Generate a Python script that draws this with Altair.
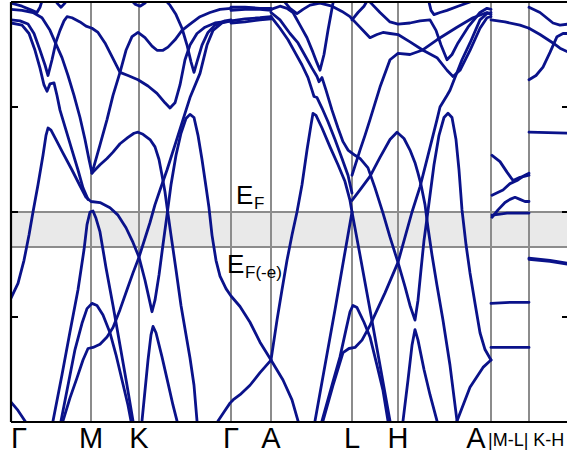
import altair as alt
import pandas as pd

# ---------------- data (k: path coordinate, E: energy in eV rel. E_F) ----------------
sym_k = [80, 128, 220, 260, 341, 387, 480, 518]
ef_levels = [0.0, -0.333]

# Gamma - M - K - Gamma
b01_k = [0, 7, 14, 16]
b01_e = [-1.81, -1.89, -1.99, -2.03]
b02_k = [0, 11, 21, 26, 29, 32]
b02_e = [1.99, 1.96, 1.92, 1.90, 1.95, 2.04]
b03_k = [0, 11, 22, 31, 39, 44, 51, 57, 63, 69, 74, 78, 81, 89, 96, 102, 109, 115, 121, 127, 134, 141, 146, 152, 157, 164, 171, 179, 189, 199, 209, 220]
b03_e = [1.93, 1.92, 1.90, 1.85, 1.73, 1.62, 1.47, 1.30, 1.11, 0.90, 0.69, 0.50, 0.37, 0.64, 0.88, 1.11, 1.33, 1.54, 1.67, 1.71, 1.66, 1.58, 1.54, 1.54, 1.57, 1.64, 1.73, 1.79, 1.86, 1.90, 1.93, 1.94]
b04_k = [0, 9, 17, 23, 29, 34, 37, 41, 45, 49, 53, 56, 61, 69, 75, 81, 87, 94, 101, 109, 117, 127, 137, 146, 154, 159, 164, 169, 174, 179, 186, 194, 204, 220]
b04_e = [1.83, 1.82, 1.79, 1.70, 1.54, 1.40, 1.30, 1.45, 1.62, 1.73, 1.82, 1.86, 1.85, 1.81, 1.77, 1.75, 1.71, 1.61, 1.48, 1.33, 1.30, 1.26, 1.20, 1.13, 1.04, 0.99, 1.04, 1.21, 1.45, 1.59, 1.70, 1.76, 1.80, 1.82]
b05_k = [0, 11, 18, 24, 29, 33, 36, 39, 43, 46, 49, 55, 61, 67, 72, 77]
b05_e = [1.80, 1.78, 1.70, 1.54, 1.37, 1.21, 1.15, 1.22, 1.23, 1.11, 0.97, 0.78, 0.59, 0.40, 0.23, 0.12]
b06_k = [0, 7, 13, 18, 22, 27, 32, 35, 37, 40, 45, 52, 61, 69, 75, 80, 89, 99, 107, 115, 122, 128, 134, 138, 141, 144, 148, 152, 156, 160, 165, 170, 175, 179, 183, 187, 191, 195, 198, 201, 205, 209, 215, 220, 229, 239, 249, 260, 272, 281, 287, 289]
b06_e = [-0.82, -0.68, -0.46, -0.22, 0.0, 0.26, 0.54, 0.73, 0.80, 0.78, 0.69, 0.56, 0.40, 0.25, 0.14, 0.10, 0.09, 0.04, -0.03, -0.15, -0.29, -0.43, -0.65, -0.82, -0.95, -0.84, -0.60, -0.31, -0.03, 0.26, 0.54, 0.75, 0.89, 0.93, 0.90, 0.73, 0.50, 0.24, 0.04, -0.22, -0.46, -0.61, -0.73, -0.80, -0.90, -1.05, -1.24, -1.41, -1.60, -1.79, -1.99, -2.03]
b07_k = [42, 51, 59, 67, 73, 76, 79, 82, 85, 89, 95, 102, 109, 116, 122]
b07_e = [-1.99, -1.55, -1.14, -0.74, -0.36, -0.12, 0.0, 0.01, -0.06, -0.19, -0.53, -0.89, -1.27, -1.65, -1.99]
b08_k = [50, 57, 64, 71, 76, 81, 86, 92, 99, 105, 111, 117, 120]
b08_e = [-1.99, -1.65, -1.31, -1.06, -0.92, -0.87, -0.89, -0.98, -1.15, -1.36, -1.60, -1.84, -1.99]
b09_k = [52, 59, 66, 72, 77, 82, 89, 96, 102, 109, 116, 122, 128, 134, 139, 144, 149, 156, 164, 172, 179, 189, 196, 202, 211, 220]
b09_e = [-1.99, -1.77, -1.58, -1.41, -1.30, -1.29, -1.26, -1.19, -1.10, -0.93, -0.74, -0.58, -0.43, -0.25, -0.10, 0.07, 0.21, 0.40, 0.64, 0.88, 1.09, 1.32, 1.59, 1.73, 1.80, 1.82]
b10_k = [81, 89, 96, 102, 109, 117, 123, 127, 132, 139, 144, 148, 151, 154, 156, 160, 165, 170, 175, 179, 183, 186]
b10_e = [0.37, 0.45, 0.51, 0.57, 0.65, 0.71, 0.75, 0.76, 0.74, 0.69, 0.62, 0.50, 0.35, 0.19, 0.05, -0.22, -0.55, -0.89, -1.17, -1.39, -1.65, -1.99]
b11_k = [42, 47, 50, 53, 58]
b11_e = [2.04, 1.98, 1.95, 1.98, 2.04]
b12_k = [118, 124, 129, 134, 138]
b12_e = [2.04, 1.98, 1.96, 1.99, 2.04]
b13_k = [152, 159, 165, 171, 176, 180, 183, 186, 191, 197, 204, 214, 220]
b13_e = [2.04, 1.97, 1.88, 1.75, 1.59, 1.43, 1.33, 1.43, 1.59, 1.71, 1.78, 1.82, 1.83]
b14_k = [131, 134, 137, 140, 142, 145, 151, 157, 162, 166]
b14_e = [-1.99, -1.70, -1.41, -1.17, -1.09, -1.15, -1.38, -1.63, -1.84, -1.99]

# Gamma - A
ga_k = [220, 234, 249, 260]
t1_e = [1.95, 1.95, 1.94, 1.94]
t2_e = [1.92, 1.93, 1.93, 1.92]
t3_e = [1.82, 1.84, 1.85, 1.86]
t4_e = [1.80, 1.81, 1.83, 1.84]
ag_k = [207, 214, 219, 222, 229, 239, 249, 260]
ag_e = [-1.99, -1.89, -1.82, -1.79, -1.74, -1.65, -1.53, -1.41]

# A - L - H - A
al1_k = [260, 269, 277, 284, 291, 297, 301, 303, 306, 311, 317, 324, 331, 337, 341]
al1_e = [1.86, 1.75, 1.64, 1.52, 1.40, 1.28, 1.16, 1.10, 1.09, 0.99, 0.86, 0.69, 0.51, 0.35, 0.18]
al2_k = [260, 269, 279, 287, 294, 301, 306, 308, 311, 315, 321, 327, 332, 337, 344, 349, 357, 364, 372, 379, 387, 394, 399, 404, 407, 410, 413, 416, 419, 423, 428, 433, 437, 441, 445, 448, 451, 455, 459, 464, 469, 474, 480]
al2_e = [1.90, 1.83, 1.70, 1.61, 1.49, 1.37, 1.29, 1.24, 1.28, 1.16, 0.97, 0.80, 0.67, 0.59, 0.54, 0.51, 0.42, 0.23, -0.01, -0.24, -0.48, -0.71, -0.89, -1.03, -0.84, -0.55, -0.27, -0.06, 0.16, 0.45, 0.73, 0.90, 0.94, 0.90, 0.69, 0.40, 0.02, -0.31, -0.58, -0.87, -1.15, -1.31, -1.41]
al3_k = [260, 269, 276, 282, 289, 296, 302, 306, 309, 313, 317, 322, 324]
al3_e = [1.93, 1.96, 1.94, 1.90, 1.78, 1.66, 1.52, 1.42, 1.35, 1.50, 1.73, 1.99, 2.04]
al5_k = [272, 279, 286, 292, 299, 309, 321, 331, 339, 347, 354, 359, 366, 372, 379, 387, 399, 412, 426, 436, 442, 449, 459, 469, 476, 480]
al5_e = [2.02, 1.94, 1.89, 1.93, 1.97, 1.99, 1.96, 1.91, 1.86, 1.78, 1.71, 1.66, 1.69, 1.71, 1.70, 1.69, 1.62, 1.54, 1.47, 1.35, 1.29, 1.35, 1.54, 1.75, 1.85, 1.86]
al4_k = [260, 266, 271, 276, 281, 286, 291, 296, 300, 302, 305, 311, 319, 327, 334, 339, 341]
al4_e = [-1.41, -1.03, -0.74, -0.46, -0.22, 0.0, 0.26, 0.59, 0.83, 0.94, 0.92, 0.80, 0.62, 0.45, 0.29, 0.11, 0.0]
lh1_k = [304, 314, 324, 334, 341]
lh1_e = [-1.99, -1.46, -0.93, -0.38, 0.0]
lh4_k = [341, 349, 359, 369, 379]
lh4_e = [0.0, -0.41, -0.93, -1.46, -1.99]
lh2_k = [311, 321, 329, 335, 339, 342, 346, 353, 359, 366, 372, 377]
lh2_e = [-1.99, -1.65, -1.38, -1.12, -0.95, -0.89, -0.91, -1.05, -1.19, -1.46, -1.70, -1.99]
lh3_k = [312, 322, 332, 338, 344, 351, 359, 374, 387, 394, 401, 409, 417, 426, 429, 436, 439, 444, 451, 459, 469, 476, 480]
lh3_e = [-1.99, -1.65, -1.34, -1.30, -1.29, -1.22, -1.08, -0.77, -0.48, -0.24, 0.0, 0.24, 0.54, 0.88, 1.00, 1.11, 1.16, 1.28, 1.45, 1.61, 1.83, 1.89, 1.90]
lh6_k = [341, 349, 359, 369, 379, 386, 393, 399, 404, 407, 410, 414, 417, 421, 426, 432, 439, 446]
lh6_e = [0.11, 0.21, 0.34, 0.52, 0.69, 0.76, 0.70, 0.59, 0.47, 0.37, 0.26, 0.07, -0.15, -0.41, -0.70, -1.03, -1.46, -1.99]
hinv_k = [392, 397, 401, 404, 407, 413, 419, 426]
hinv_e = [-1.99, -1.60, -1.27, -1.12, -1.22, -1.50, -1.74, -1.99]
lh5_k = [341, 349, 354, 359, 369, 379, 387, 399, 411, 426, 446, 462, 476, 480]
lh5_e = [0.35, 0.59, 0.73, 0.88, 1.19, 1.45, 1.51, 1.50, 1.54, 1.64, 1.76, 1.85, 1.90, 1.88]
lha2_k = [355, 361, 369, 379, 387, 399, 409, 419, 425, 430, 436, 441, 447, 457, 469, 476, 480]
lha2_e = [2.04, 1.98, 1.90, 1.81, 1.79, 1.80, 1.82, 1.83, 1.73, 1.59, 1.45, 1.50, 1.61, 1.76, 1.90, 1.94, 1.93]
lha3_k = [417, 420, 423, 429, 436, 447, 459, 464]
lha3_e = [2.04, 1.92, 1.88, 1.90, 1.92, 1.96, 2.00, 2.04]
lha4_k = [341, 347, 353, 358]
lha4_e = [1.83, 1.90, 1.96, 2.04]
har_k = [446, 459, 472, 480]
har_e = [-1.99, -1.67, -1.48, -1.41]

# M-L panel
ml0_k = [480, 494, 509, 518]
ml0_e = [1.83, 1.81, 1.78, 1.75]
ml1_k = [481, 489, 496, 502, 509, 518]
ml1_e = [0.54, 0.48, 0.38, 0.30, 0.33, 0.35]
ml2_k = [481, 492, 499, 506, 512, 518]
ml2_e = [0.16, 0.21, 0.27, 0.30, 0.34, 0.37]
ml3_k = [481, 487, 494, 499, 504, 509, 514, 518]
ml3_e = [-0.05, 0.02, 0.09, 0.12, 0.14, 0.12, 0.10, 0.10]
ml4_k = [481, 489, 496, 518]
ml4_e = [-0.03, -0.02, -0.01, -0.01]
ml5_k = [480, 499, 518]
ml5_e = [-0.87, -0.86, -0.86]
ml6_k = [480, 518]
ml6_e = [-1.29, -1.29]

# K-H panel
kh_k = [518, 529, 542, 549, 558]
kh1_e = [1.95, 1.90, 1.80, 1.78, 1.79]
kh2_e = [1.75, 1.69, 1.61, 1.56, 1.52]
kh3_k = [518, 525, 532, 539, 546, 552, 558]
kh3_e = [1.26, 1.30, 1.38, 1.52, 1.67, 1.70, 1.70]
kh4_k = [518, 558]
kh4_e = [0.76, 0.75]
kh5_k = [518, 539, 558]
kh5_e = [-0.44, -0.46, -0.49]
kh6_e = [-0.45, -0.47, -0.50]

band_list = [
    ("b01", b01_k, b01_e), ("b02", b02_k, b02_e), ("b03", b03_k, b03_e), ("b04", b04_k, b04_e),
    ("b05", b05_k, b05_e), ("b06", b06_k, b06_e), ("b07", b07_k, b07_e), ("b08", b08_k, b08_e),
    ("b09", b09_k, b09_e), ("b10", b10_k, b10_e), ("b11", b11_k, b11_e), ("b12", b12_k, b12_e),
    ("b13", b13_k, b13_e), ("b14", b14_k, b14_e),
    ("t1", ga_k, t1_e), ("t2", ga_k, t2_e), ("t3", ga_k, t3_e), ("t4", ga_k, t4_e), ("ag", ag_k, ag_e),
    ("al1", al1_k, al1_e), ("al2", al2_k, al2_e), ("al3", al3_k, al3_e), ("al5", al5_k, al5_e),
    ("al4", al4_k, al4_e), ("lh1", lh1_k, lh1_e), ("lh4", lh4_k, lh4_e), ("lh2", lh2_k, lh2_e),
    ("lh3", lh3_k, lh3_e), ("lh6", lh6_k, lh6_e), ("hinv", hinv_k, hinv_e), ("lh5", lh5_k, lh5_e),
    ("lha2", lha2_k, lha2_e), ("lha3", lha3_k, lha3_e), ("lha4", lha4_k, lha4_e), ("har", har_k, har_e),
    ("ml0", ml0_k, ml0_e), ("ml1", ml1_k, ml1_e), ("ml2", ml2_k, ml2_e), ("ml3", ml3_k, ml3_e),
    ("ml4", ml4_k, ml4_e), ("ml5", ml5_k, ml5_e), ("ml6", ml6_k, ml6_e),
    ("kh1", kh_k, kh1_e), ("kh2", kh_k, kh2_e), ("kh3", kh3_k, kh3_e), ("kh4", kh4_k, kh4_e),
    ("kh5", kh5_k, kh5_e), ("kh6", kh5_k, kh6_e),
]

# tick labels
path_labels = ["Γ", "M", "K", "Γ", "A", "L", "H", "A"]
path_label_k = [0, 80, 128, 220, 260, 341, 387, 465]
panel_label = "|M-L| K-H"
panel_label_k = 477

# ---------------- build tables ----------------
rows = []
for name, ks, es in band_list:
    for i, (k, e) in enumerate(zip(ks, es)):
        rows.append({"band": name, "i": i, "k": k, "E": e})
bands = pd.DataFrame(rows)

K_MAX = 556
xs = alt.Scale(domain=[0, K_MAX], nice=False, zero=False)
ys = alt.Scale(domain=[-2, 2], nice=False, zero=False)
X = lambda f: alt.X(f, scale=xs, axis=None)
Y = lambda f: alt.Y(f, scale=ys, axis=None)

NAVY = "#0a128a"
GRAY = "#8c8c8c"

shade = alt.Chart(pd.DataFrame({"k0": [0], "k1": [K_MAX], "e0": [ef_levels[1]], "e1": [ef_levels[0]]})).mark_rect(
    color="#e9e9e9"
).encode(x=X("k0:Q"), x2="k1", y=Y("e0:Q"), y2="e1")

hlines = alt.Chart(pd.DataFrame({"E": ef_levels})).mark_rule(color=GRAY, strokeWidth=2).encode(y=Y("E:Q"))
vlines = alt.Chart(pd.DataFrame({"k": sym_k})).mark_rule(color=GRAY, strokeWidth=2).encode(x=X("k:Q"))

lines = alt.Chart(bands).mark_line(
    color=NAVY, strokeWidth=2.8, clip=True, strokeJoin="round", strokeCap="round"
).encode(x=X("k:Q"), y=Y("E:Q"), detail="band:N", order="i:Q")

frame = pd.DataFrame({
    "k0": [0, 0, 0], "k1": [0, K_MAX, K_MAX],
    "e0": [-2, 2, -2], "e1": [2, 2, -2],
})
frame_rules = alt.Chart(frame).mark_rule(color="black", strokeWidth=2.2).encode(
    x=X("k0:Q"), x2="k1", y=Y("e0:Q"), y2="e1"
)

ticks = pd.DataFrame({
    "k0": [0, 0, 0, 551, 551, 551], "k1": [7, 7, 7, K_MAX, K_MAX, K_MAX],
    "e": [1, 0, -1, 1, 0, -1],
})
tick_rules = alt.Chart(ticks).mark_rule(color="black", strokeWidth=2).encode(
    x=X("k0:Q"), x2="k1", y=Y("e:Q")
)

lab = pd.DataFrame({"k": path_label_k, "E": [-2.245] * len(path_labels), "t": path_labels})
lab_first = alt.Chart(lab.iloc[:1]).mark_text(
    font="Liberation Sans", fontSize=29, align="left", baseline="alphabetic", color="black"
).encode(x=X("k:Q"), y=Y("E:Q"), text="t:N")
lab_rest = alt.Chart(lab.iloc[1:]).mark_text(
    font="Liberation Sans", fontSize=29, align="center", baseline="alphabetic", color="black"
).encode(x=X("k:Q"), y=Y("E:Q"), text="t:N")
lab_panel = alt.Chart(pd.DataFrame({"k": [panel_label_k], "E": [-2.23], "t": [panel_label]})).mark_text(
    font="Liberation Sans", fontSize=18, align="left", baseline="alphabetic", color="black"
).encode(x=X("k:Q"), y=Y("E:Q"), text="t:N")

ef_big = pd.DataFrame({"k": [225, 216], "E": [0.076, -0.58], "t": ["E", "E"]})
ef_sub = pd.DataFrame({"k": [243, 234], "E": [0.029, -0.63], "t": ["F", "F(-e)"]})
ef_big_t = alt.Chart(ef_big).mark_text(
    font="Liberation Sans", fontSize=26, align="left", baseline="alphabetic", color="black"
).encode(x=X("k:Q"), y=Y("E:Q"), text="t:N")
ef_sub_t = alt.Chart(ef_sub).mark_text(
    font="Liberation Sans", fontSize=17, align="left", baseline="alphabetic", color="black"
).encode(x=X("k:Q"), y=Y("E:Q"), text="t:N")

chart = alt.layer(
    shade, hlines, vlines, lines, frame_rules, tick_rules,
    lab_first, lab_rest, lab_panel, ef_big_t, ef_sub_t,
).properties(
    width=K_MAX, height=420,
    padding={"left": 11, "top": 2, "right": 1, "bottom": 32},
    autosize=alt.AutoSizeParams(type="none"),
    background="white",
).configure_view(stroke=None)

chart.save("out.html", embed_options={"renderer": "svg", "actions": False})
